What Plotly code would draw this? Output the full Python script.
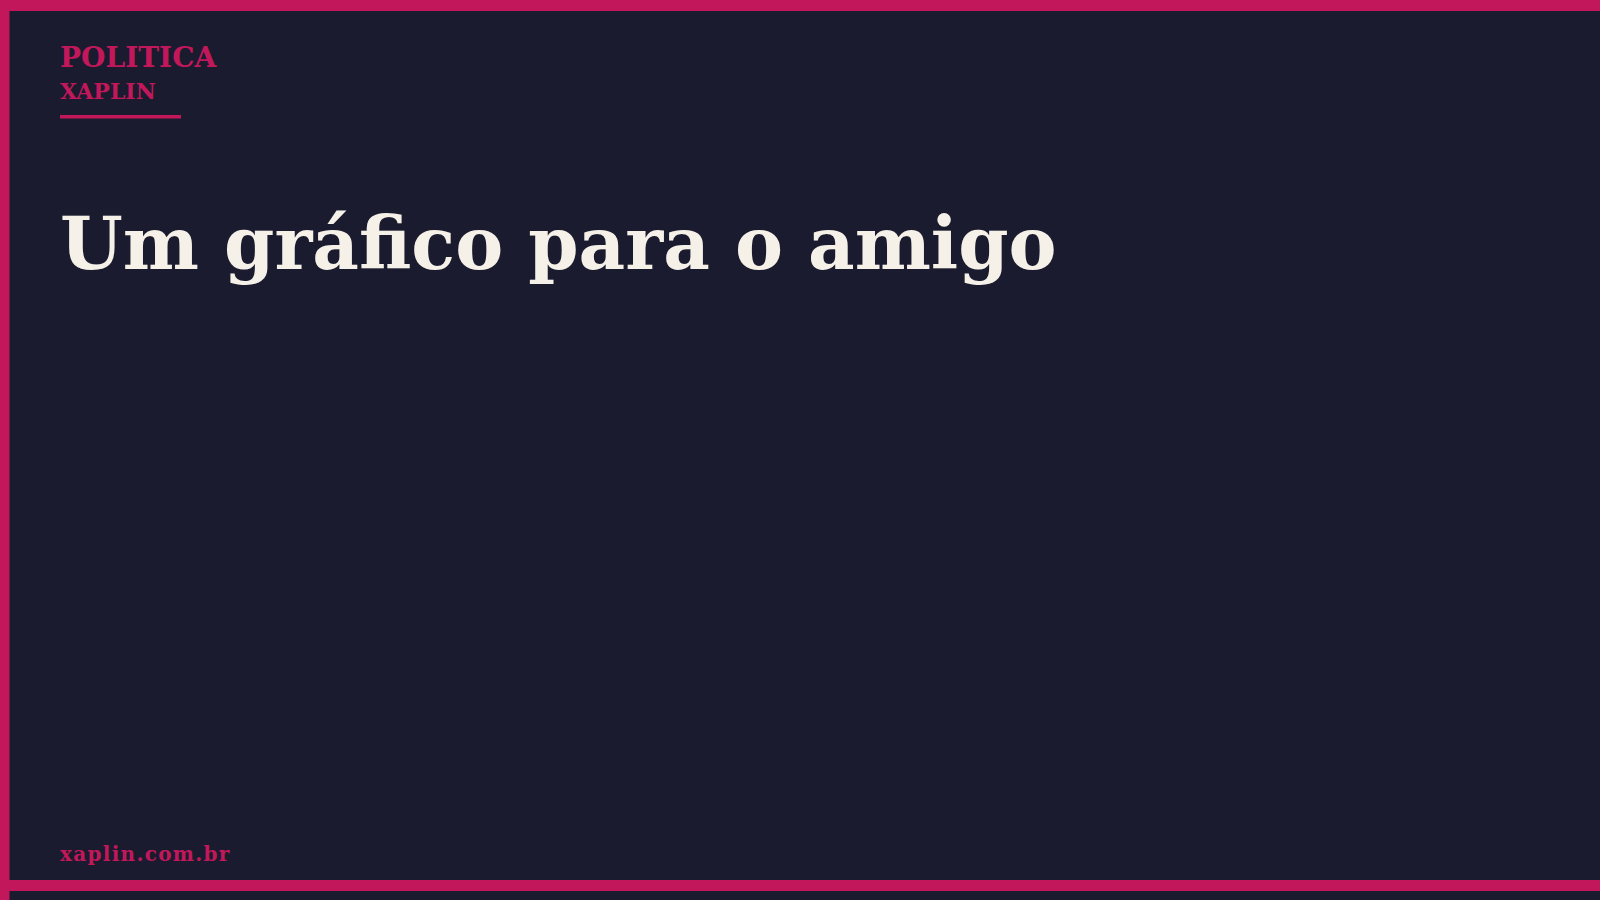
import plotly.graph_objects as go

W, H = 1600, 900

# colours of the card
BG = '#1a1b2e'
PINK = '#c2185b'
CREAM = '#f5f0e8'
FONT = 'DejaVu Serif'

# texts
kicker = ['POLITICA', 'XAPLIN']
headline = ['Um gráfico para o amigo']
footer = ['xaplin.com.br']


def px_x(x):
    return x / W


def px_y(y):
    return 1 - y / H


def text_at(fig, text, x, baseline, size, color, spacing=0):
    # centre of the svg text box sits about 0.346em above the baseline
    if spacing:
        text = '<span style="letter-spacing:%spx">%s</span>' % (spacing, text)
    fig.add_annotation(text='<b>' + text + '</b>', x=px_x(x), y=px_y(baseline - 0.346 * size),
                       xref='paper', yref='paper', xanchor='left', yanchor='middle',
                       showarrow=False, font=dict(family=FONT, size=size, color=color))


def bar(fig, x0, y0, x1, y1):
    fig.add_shape(type='rect', xref='paper', yref='paper',
                  x0=px_x(x0), x1=px_x(x1), y0=px_y(y1), y1=px_y(y0),
                  line_width=0, fillcolor=PINK, layer='above')


def main():
    fig = go.Figure()
    fig.update_layout(width=W, height=H, margin=dict(l=0, r=0, t=0, b=0),
                      paper_bgcolor=BG, plot_bgcolor=BG, showlegend=False,
                      xaxis=dict(visible=False, range=[0, 1]),
                      yaxis=dict(visible=False, range=[0, 1]))

    # frame
    bar(fig, 0, 0, W, 11)
    bar(fig, 0, 0, 9.5, H)
    bar(fig, 0, 880, W, 891)
    bar(fig, 60, 115, 181, 118.5)

    text_at(fig, kicker[0], 58, 67, 28, PINK)
    text_at(fig, kicker[1], 58, 99, 22, PINK)
    text_at(fig, headline[0], 58, 268, 72, CREAM)
    text_at(fig, footer[0], 58, 861, 20, PINK, spacing=1.3)

    # the page body has a default 8px margin, drop it so the card sits at 0,0
    fig.write_html('out.html', config={'displayModeBar': False},
                   post_script="document.body.style.margin='0';document.body.style.overflow='hidden';")


if __name__ == '__main__':
    main()
